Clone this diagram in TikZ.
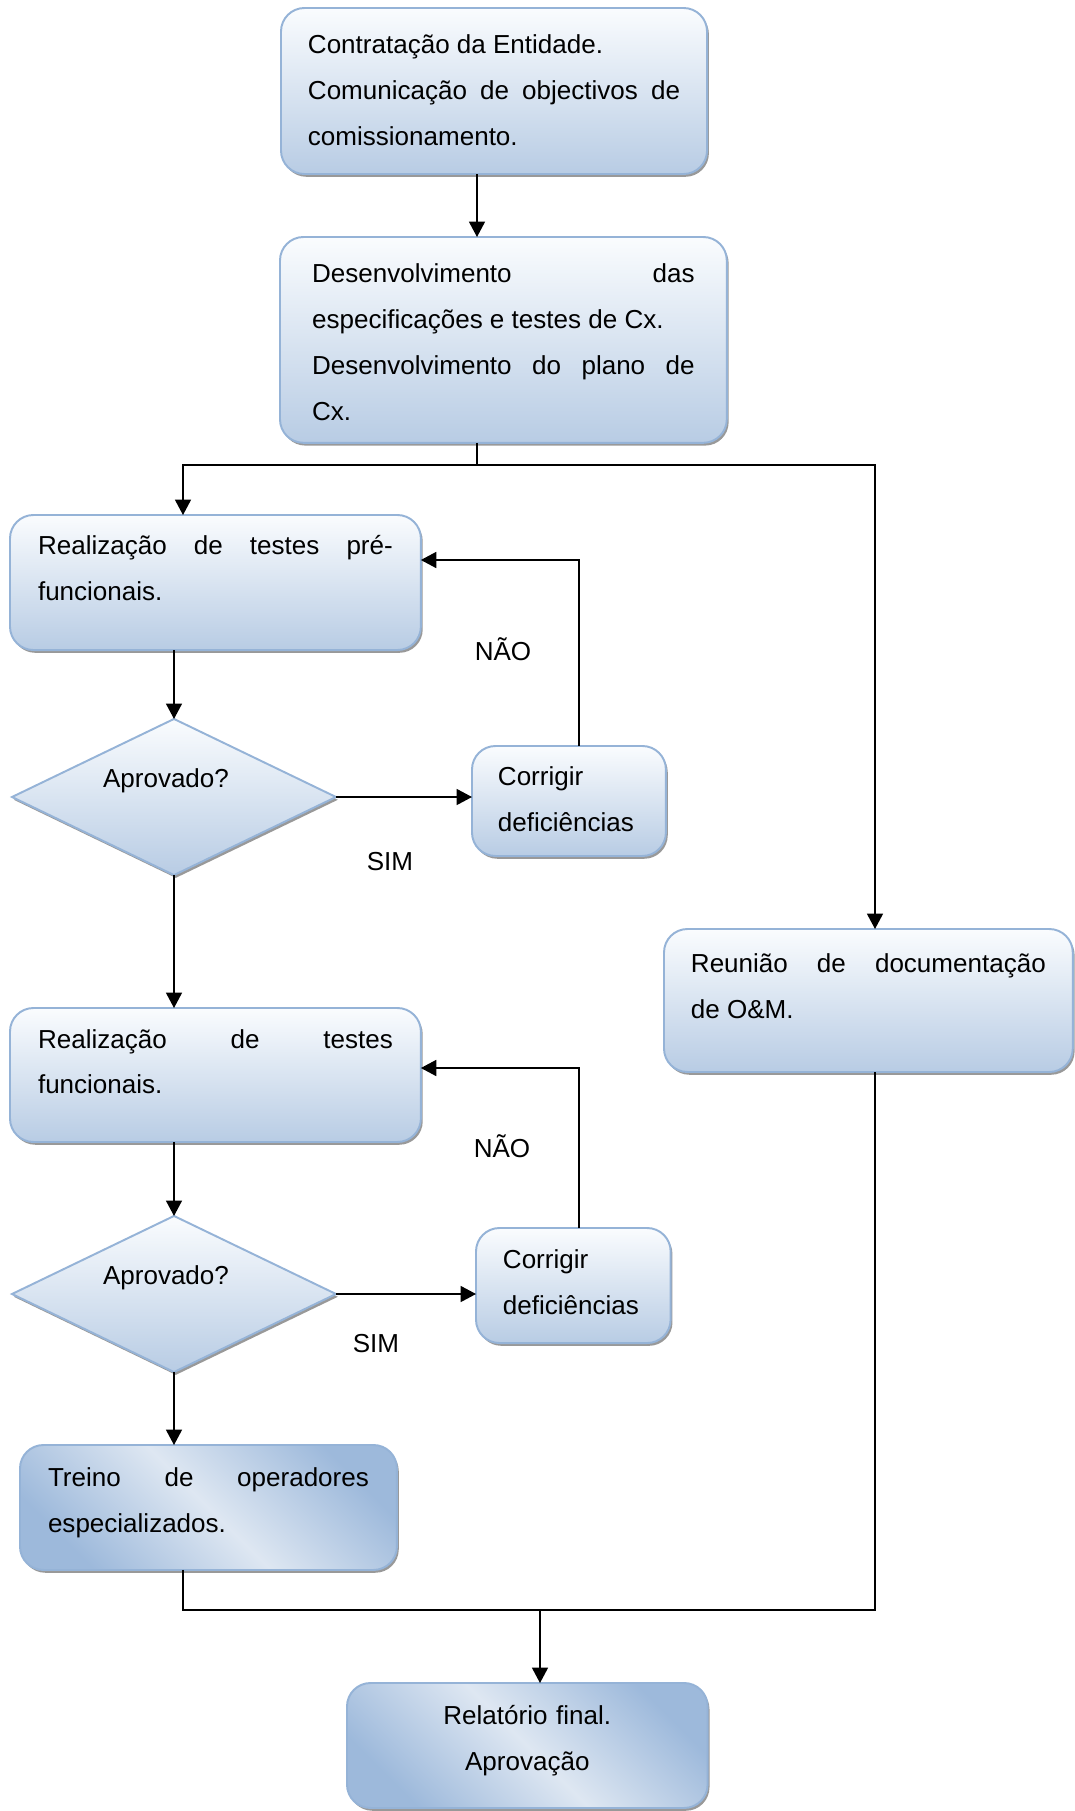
\documentclass[tikz,border=0pt]{standalone}
\usepackage{fontspec}
\setmainfont{Liberation Sans}
\usetikzlibrary{shapes.geometric, arrows.meta}
\definecolor{boxline}{HTML}{95B3D7}
\definecolor{boxtop}{HTML}{FAFCFE}
\definecolor{boxbottom}{HTML}{B8CCE4}
\definecolor{boxlight}{HTML}{DEE7F2}
\definecolor{boxedge}{HTML}{9DB9DB}
\tolerance=10000
\hyphenpenalty=10000
\tikzset{
	shadowed/.style={preaction={fill=black!40, transform canvas={xshift=0.03cm, yshift=-0.045cm}}},
	task/.style={draw=boxline, line width=0.9pt, rectangle, rounded corners=0.38cm, top color=boxtop, bottom color=boxbottom, shadowed, anchor=north west, inner ysep=0pt, outer sep=0pt, align=justify, font=\fontsize{12pt}{21.2pt}\selectfont},
	% diagonal shading for the two last boxes
	taskdiag/.style={task, top color=boxedge, bottom color=boxedge, middle color=boxlight, shading angle=-45},
	decision/.style={draw=boxline, line width=0.9pt, diamond, aspect=2, inner sep=0pt, outer sep=0pt, minimum width=5.25cm, minimum height=2.53cm, top color=boxtop, bottom color=boxbottom, shadowed, text height=0.1cm, text depth=0.424cm, font=\fontsize{12pt}{14pt}\selectfont},
	answer/.style={anchor=base, font=\fontsize{12pt}{14pt}\selectfont},
}

\begin{document}
\begin{tikzpicture}[x=0.0162cm, y=-0.0162cm]
	\useasboundingbox (0,0) rectangle (1074,1811);
	
	\node (contr) [task, text width=6.03cm, inner xsep=0.437cm, text height=0.73cm, text depth=1.96cm] at (281,8) {Contratação da Entidade.\par Comunicação de objectivos de\linebreak comissionamento.};
	
	\node (desenv) [task, text width=6.2cm, inner xsep=0.52cm, text height=0.745cm, text depth=2.59cm] at (280,237) {Desenvolvimento das\linebreak especificações e testes de Cx.\par Desenvolvimento do plano de\linebreak Cx.};
	
	\node (prefunc) [task, text width=5.75cm, inner xsep=0.454cm, text height=0.648cm, text depth=1.54cm] at (10,515) {Realização de testes pré-\linebreak funcionais.};
	\node (apr1) [decision] at (174,797) {Aprovado?\kern0.26cm};
	\node (corr1) [task, align=left, text width=2.3cm, inner xsep=0.421cm, text height=0.648cm, text depth=1.134cm] at (472,746) {Corrigir\par deficiências};
	
	\node (func) [task, text width=5.75cm, inner xsep=0.454cm, text height=0.648cm, text depth=1.523cm] at (10,1008) {Realização de testes\linebreak funcionais.};
	\node (apr2) [decision] at (174,1294) {Aprovado?\kern0.26cm};
	\node (corr2) [task, align=left, text width=2.28cm, inner xsep=0.437cm, text height=0.664cm, text depth=1.2cm] at (476,1228) {Corrigir\par deficiências};
	
	\node (reun) [task, text width=5.75cm, inner xsep=0.437cm, text height=0.697cm, text depth=1.62cm] at (664,929) {Reunião de documentação\linebreak de O\&M.};
	
	\node (treino) [taskdiag, text width=5.2cm, inner xsep=0.454cm, text height=0.68cm, text depth=1.345cm] at (20,1445) {Treino de operadores\linebreak especializados.};
	
	\node (final) [taskdiag, align=center, text width=4.97cm, inner xsep=0.437cm, text height=0.68cm, text depth=1.345cm] at (347,1683) {Relatório final.\par Aprovação};
	
	\node (nao1) [answer] at (503,660) {NÃO};
	\node (sim1) [answer] at (390,870) {SIM};
	\node (nao2) [answer] at (502,1157) {NÃO};
	\node (sim2) [answer] at (376,1352) {SIM};
	
	\coordinate (split) at (477,465);
	\coordinate (join) at (540,1610);
	\coordinate (lx) at (183,0);
	\coordinate (rx) at (875,0);
	\coordinate (back1) at (579,560);
	\coordinate (back2) at (579,1068);
	
	\begin{scope}[line width=0.7pt, black, ->, >={Triangle[length=0.25cm, width=0.26cm]}]
		\draw (contr.south -| split) -- (desenv.north -| split);
		\draw[-] (desenv.south -| split) -- (split);
		\draw (split) -| (prefunc.north -| lx);
		\draw (split) -| (reun.north -| rx);
		
		\draw (prefunc.south -| apr1) -- (apr1.north);
		\draw (apr1.east) -- (corr1.west |- apr1.east);
		\draw (corr1.north -| back1) -- (back1) -- (prefunc.east |- back1);
		\draw (apr1.south) -- (func.north -| apr1);
		
		\draw (func.south -| apr2) -- (apr2.north);
		\draw (apr2.east) -- (corr2.west |- apr2.east);
		\draw (corr2.north -| back2) -- (back2) -- (func.east |- back2);
		\draw (apr2.south) -- (treino.north -| apr2);
		
		\draw[-] (treino.south -| lx) -- (lx |- join) -- (rx |- join) -- (reun.south -| rx);
		\draw (join) -- (final.north -| join);
	\end{scope}
\end{tikzpicture}
\end{document}
